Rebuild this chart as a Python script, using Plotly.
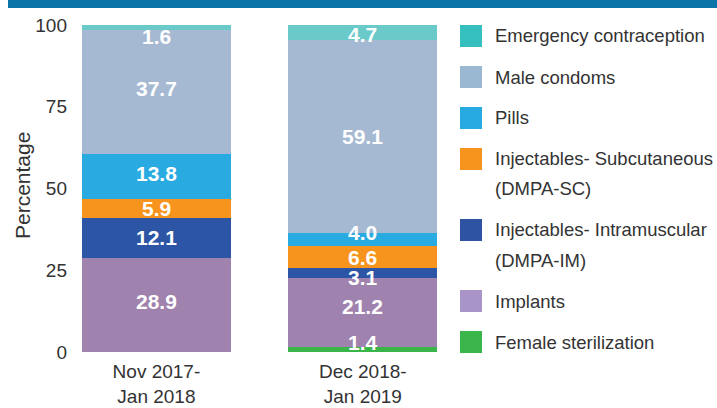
import plotly.graph_objects as go

# ---------------- data ----------------
periods = ["Nov 2017-<br>Jan 2018", "Dec 2018-<br>Jan 2019"]
series_names = [
    "Female sterilization",
    "Implants",
    "Injectables- Intramuscular<br>(DMPA-IM)",
    "Injectables- Subcutaneous<br>(DMPA-SC)",
    "Pills",
    "Male condoms",
    "Emergency contraception",
]
female_sterilization = [0.0, 1.4]
implants = [28.9, 21.2]
dmpa_im = [12.1, 3.1]
dmpa_sc = [5.9, 6.6]
pills = [13.8, 4.0]
male_condoms = [37.7, 59.1]
emergency = [1.6, 4.7]
series_values = [female_sterilization, implants, dmpa_im, dmpa_sc, pills, male_condoms, emergency]
y_ticks = [0, 25, 50, 75, 100]

# ---------------- styles ----------------
bar_colors = ["#3ab54a", "#9f82ad", "#2c56a5", "#f7941d", "#29abe2", "#a5b9d2", "#6acaca"]
legend_colors = ["#3ab54a", "#a894c6", "#2e53a3", "#f7941d", "#27aae1", "#9bb8d3", "#35bfbf"]
FONT = "Liberation Sans, Arial, sans-serif"
TXT = "#333333"
# label nudges in pixels (series index, bar index) -> yshift
label_nudge = {(6, 0): -9, (6, 1): -2, (4, 1): 7, (2, 1): -4, (1, 1): 6, (0, 1): 7,
               (1, 0): 3, (4, 0): 3, (5, 0): 3}

W_FIG, H_FIG = 717, 408
L, T, PW, PH = 75, 25, 391, 327
XR = [-0.3945, 1.5]


def px_x(x):
    return (x - L) / PW


def px_y(y):
    return (T + PH - y) / PH


fig = go.Figure()
for name, vals, col in zip(series_names, series_values, bar_colors):
    fig.add_trace(go.Bar(
        x=periods, y=vals, name=name.replace("<br>", " "),
        marker=dict(color=col, line=dict(width=0)),
        showlegend=False, hoverinfo="skip",
    ))

annotations = []
# value labels at segment midpoints
for bi in range(len(periods)):
    base = 0.0
    for si, vals in enumerate(series_values):
        v = vals[bi]
        if v > 0:
            annotations.append(dict(
                x=periods[bi], y=base + v / 2, xref="x", yref="y",
                text=f"{v:.1f}", showarrow=False,
                yshift=label_nudge.get((si, bi), 0),
                font=dict(family=FONT, size=21, color="white", weight="bold"),
            ))
        base += v

# manual legend (top to bottom = reverse stacking order)
shapes = []
y_cur = 36
for k, si in enumerate(reversed(range(len(series_names)))):
    lines = series_names[si].split("<br>")
    shapes.append(dict(
        type="rect", xref="paper", yref="paper",
        x0=px_x(460), x1=px_x(482), y0=px_y(y_cur + 11), y1=px_y(y_cur - 11),
        fillcolor=legend_colors[si], line=dict(width=0),
    ))
    for j, ln in enumerate(lines):
        annotations.append(dict(
            x=px_x(493), y=px_y(y_cur + 30 * j), xref="paper", yref="paper",
            xanchor="left", yanchor="middle", text=ln, showarrow=False,
            font=dict(family=FONT, size=18.5, color=TXT),
        ))
    y_cur += 41 + 30 * (len(lines) - 1)

# banner at top
shapes.append(dict(
    type="rect", xref="paper", yref="paper",
    x0=px_x(8), x1=px_x(717), y0=px_y(8), y1=px_y(0),
    fillcolor="#0a73a7", line=dict(width=0), layer="above",
))

# y axis title
annotations.append(dict(
    x=px_x(22), y=px_y(186), xref="paper", yref="paper",
    text="Percentage", textangle=-90, showarrow=False,
    xanchor="center", yanchor="middle",
    font=dict(family=FONT, size=21, color=TXT),
))

fig.update_layout(
    width=W_FIG, height=H_FIG,
    margin=dict(l=L, r=W_FIG - L - PW, t=T, b=H_FIG - T - PH, pad=0, autoexpand=False),
    barmode="stack", bargap=0.278,
    plot_bgcolor="white", paper_bgcolor="white",
    shapes=shapes, annotations=annotations,
    xaxis=dict(range=XR, showgrid=False, zeroline=False, showline=False,
               ticks="", ticklabelstandoff=6, fixedrange=True, automargin=False,
               tickfont=dict(family=FONT, size=19, color=TXT)),
    yaxis=dict(range=[0, 100], tickvals=y_ticks, showgrid=False, zeroline=False,
               showline=False, ticks="", ticklabelstandoff=7, fixedrange=True,
               automargin=False,
               tickfont=dict(family=FONT, size=19, color=TXT)),
    showlegend=False,
)

post = (
    "var s=document.createElement('style');"
    "s.innerHTML='html,body{margin:0;padding:0;overflow:hidden;}';"
    "document.head.appendChild(s);"
)

fig.write_html("out.html", config={"displayModeBar": False}, post_script=post)
